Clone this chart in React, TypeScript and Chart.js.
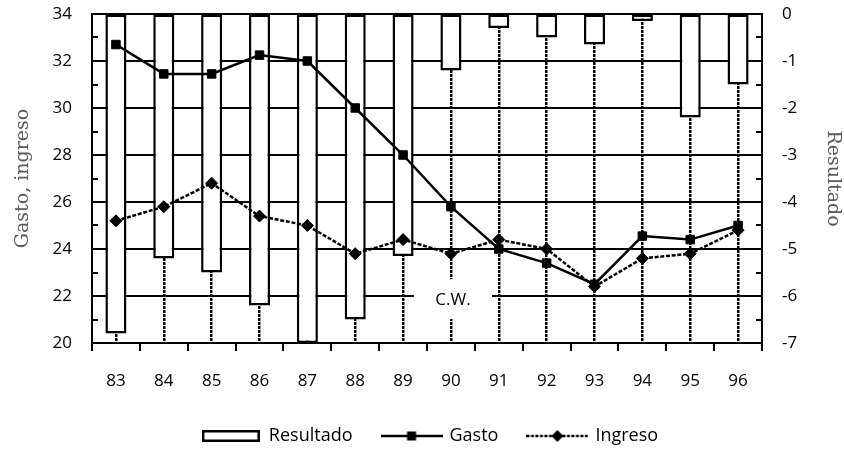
import React, { useEffect, useRef } from "react";
import { Chart, registerables } from "chart.js";

Chart.register(...registerables);

// ---- data ----
const categories = ["83", "84", "85", "86", "87", "88", "89", "90", "91", "92", "93", "94", "95", "96"];
const resultado = [-6.8, -5.2, -5.5, -6.2, -7.0, -6.5, -5.15, -1.2, -0.3, -0.5, -0.65, -0.15, -2.2, -1.5];
const gasto = [32.7, 31.45, 31.45, 32.25, 32.0, 30.0, 28.0, 25.8, 24.0, 23.4, 22.5, 24.55, 24.4, 25.0];
const ingreso = [25.2, 25.8, 26.8, 25.4, 25.0, 23.8, 24.4, 23.8, 24.4, 24.0, 22.4, 23.6, 23.8, 24.8];
const seriesNames = ["Resultado", "Gasto", "Ingreso"];

const leftMin = 20;
const leftMax = 34;
const leftStep = 2;
const rightMin = -7;
const rightMax = 0;
const rightStep = 1;
const leftTitle = "Gasto, ingreso";
const rightTitle = "Resultado";

const cwLabel = "C.W.";
const cwCategory = "90";
const cwValue = 22;

const SANS = "'Open Sans', 'Noto Sans', sans-serif";
const SERIF = "'DejaVu Serif', serif";

function makeSymbol(kind: string): HTMLCanvasElement {
  const c = document.createElement("canvas");
  const ctx = c.getContext("2d")!;
  if (kind === "bar") {
    c.width = 58;
    c.height = 12;
    ctx.fillStyle = "#fff";
    ctx.fillRect(0, 0, 58, 12);
    ctx.strokeStyle = "#000";
    ctx.lineWidth = 2.5;
    ctx.strokeRect(1.25, 1.25, 55.5, 9.5);
  } else {
    c.width = 62;
    c.height = 14;
    ctx.strokeStyle = "#000";
    ctx.lineWidth = 2.5;
    if (kind === "dash") ctx.setLineDash([3, 1.5]);
    ctx.beginPath();
    ctx.moveTo(0, 7);
    ctx.lineTo(62, 7);
    ctx.stroke();
    ctx.setLineDash([]);
    ctx.fillStyle = "#000";
    if (kind === "rect") {
      ctx.fillRect(26.5, 2.5, 9, 9);
    } else {
      ctx.beginPath();
      ctx.moveTo(31, 1);
      ctx.lineTo(37, 7);
      ctx.lineTo(31, 13);
      ctx.lineTo(25, 7);
      ctx.closePath();
      ctx.fill();
    }
  }
  return c;
}

const decorPlugin = {
  id: "decor",
  beforeDatasetsDraw(chart: any) {
    const { ctx } = chart;
    const x = chart.scales.x.getPixelForValue(categories.indexOf(cwCategory));
    const y = chart.scales.y.getPixelForValue(cwValue);
    ctx.save();
    ctx.fillStyle = "#fff";
    ctx.fillRect(x - 37, y - 17, 78, 40);
    ctx.fillStyle = "#000";
    ctx.font = `17px ${SANS}`;
    ctx.textAlign = "center";
    ctx.textBaseline = "middle";
    ctx.fillText(cwLabel, x + 2, y + 4);
    ctx.restore();
  },
  afterDatasetsDraw(chart: any) {
    const { ctx } = chart;
    const y = chart.scales.y;
    const y1 = chart.scales.y1;
    ctx.save();
    ctx.strokeStyle = "#000";
    ctx.lineWidth = 2;
    for (let v = leftMin + leftStep / 2; v < leftMax; v += leftStep) {
      const py = Math.round(y.getPixelForValue(v));
      ctx.beginPath();
      ctx.moveTo(y.right, py);
      ctx.lineTo(y.right + 6, py);
      ctx.stroke();
    }
    for (let v = rightMin + rightStep / 2; v < rightMax; v += rightStep) {
      const py = Math.round(y1.getPixelForValue(v));
      ctx.beginPath();
      ctx.moveTo(y1.left, py);
      ctx.lineTo(y1.left - 6, py);
      ctx.stroke();
    }
    ctx.restore();
  },
};

export default function App() {
  const ref = useRef<HTMLCanvasElement>(null);

  useEffect(() => {
    if (!ref.current) return;
    const symbols = [makeSymbol("bar"), makeSymbol("rect"), makeSymbol("dash")];
    const chart = new Chart(ref.current, {
      type: "bar",
      data: {
        labels: categories,
        datasets: [
          {
            type: "bar",
            label: seriesNames[0],
            data: resultado,
            yAxisID: "y1",
            xAxisID: "x",
            backgroundColor: "#fff",
            borderColor: "#000",
            borderWidth: 2.5,
            borderSkipped: false,
            barPercentage: 0.44,
            categoryPercentage: 1,
            order: 3,
          },
          {
            type: "line",
            label: seriesNames[1],
            data: gasto,
            yAxisID: "y",
            xAxisID: "x",
            borderColor: "#000",
            borderWidth: 2.5,
            pointStyle: "rect",
            pointRadius: 6,
            pointBackgroundColor: "#000",
            pointBorderColor: "#000",
            pointBorderWidth: 1,
            tension: 0,
            order: 1,
          },
          {
            type: "line",
            label: seriesNames[2],
            data: ingreso,
            yAxisID: "y",
            xAxisID: "x",
            borderColor: "#000",
            borderWidth: 2.5,
            borderDash: [4, 1.7],
            pointStyle: "rectRot",
            pointRadius: 6,
            pointBackgroundColor: "#000",
            pointBorderColor: "#000",
            pointBorderWidth: 1,
            tension: 0,
            order: 2,
          },
        ],
      },
      options: {
        animation: false,
        responsive: true,
        maintainAspectRatio: false,
        layout: { autoPadding: false, padding: { top: 14, left: 16, right: 0, bottom: -4 } },
        scales: {
          x: {
            type: "category",
            position: "bottom",
            offset: true,
            grid: {
              offset: true,
              drawOnChartArea: false,
              drawTicks: true,
              tickLength: 8,
              tickWidth: 2,
              tickColor: "#000",
              color: "#000",
              lineWidth: 2,
            },
            border: { display: true, color: "#000", width: 2 },
            ticks: { color: "#000", font: { family: SANS, size: 17 }, padding: 20, autoSkip: false, maxRotation: 0 },
            afterFit(s: any) {
              s.height = 54;
              s.paddingLeft = 0;
              s.paddingRight = 0;
            },
          },
          x2: {
            type: "category",
            position: "bottom",
            offset: true,
            grid: {
              offset: false,
              drawOnChartArea: true,
              drawTicks: false,
              color: "#000",
              lineWidth: 2.5,
              borderDash: [3, 1],
            } as any,
            border: { display: false, dash: [3, 1] },
            ticks: { display: false },
            afterFit(s: any) {
              s.height = 0;
              s.paddingLeft = 0;
              s.paddingRight = 0;
            },
          },
          y: {
            type: "linear",
            position: "left",
            min: leftMin,
            max: leftMax,
            grid: { color: "#000", lineWidth: 2, drawTicks: false },
            border: { display: true, color: "#000", width: 2 },
            ticks: { stepSize: leftStep, color: "#000", font: { family: SANS, size: 17 }, padding: 20 },
            title: {
              display: true,
              text: leftTitle,
              color: "#595959",
              font: { family: SERIF, size: 19 },
              padding: { top: -4, bottom: 0 },
            },
            afterFit(s: any) {
              s.width = 76;
              s.paddingTop = 0;
              s.paddingBottom = 0;
            },
          },
          y1: {
            type: "linear",
            position: "right",
            min: rightMin,
            max: rightMax,
            grid: { drawOnChartArea: false, drawTicks: false },
            border: { display: true, color: "#000", width: 2 },
            ticks: { stepSize: rightStep, color: "#000", font: { family: SANS, size: 17 }, padding: 20 },
            title: {
              display: true,
              text: rightTitle,
              color: "#595959",
              font: { family: SERIF, size: 19 },
              padding: { top: 0, bottom: 1 },
            },
            afterFit(s: any) {
              s.width = 82;
              s.paddingTop = 0;
              s.paddingBottom = 0;
            },
          },
        },
        plugins: {
          tooltip: { enabled: false },
          legend: {
            display: true,
            position: "bottom",
            labels: {
              usePointStyle: true,
              pointStyleWidth: 58,
              padding: 30,
              color: "#000",
              font: { family: SANS, size: 18 },
              generateLabels: () =>
                seriesNames.map((name, i) => ({
                  text: name,
                  datasetIndex: i,
                  pointStyle: symbols[i] as any,
                  fillStyle: "#fff",
                  strokeStyle: "#000",
                  lineWidth: 0,
                  hidden: false,
                  fontColor: "#000",
                })),
            },
          },
        },
      },
      plugins: [decorPlugin],
    } as any);
    return () => chart.destroy();
  }, []);

  return (
    <div style={{ position: "fixed", left: 0, top: 0, width: 844, height: 451, background: "#fff" }}>
      <canvas ref={ref} />
    </div>
  );
}
